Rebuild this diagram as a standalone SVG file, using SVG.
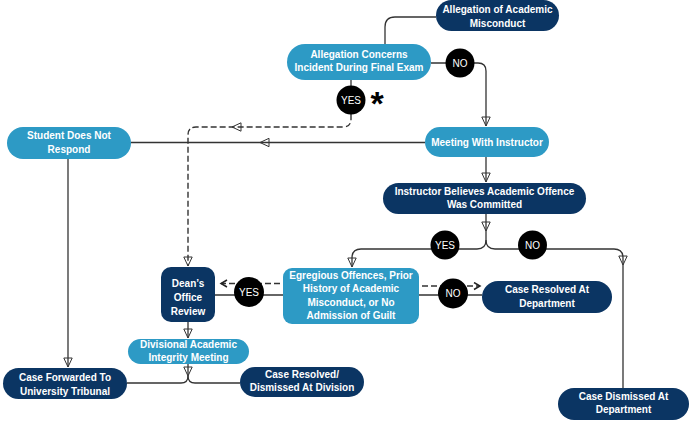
<svg xmlns="http://www.w3.org/2000/svg" xmlns:xlink="http://www.w3.org/1999/xlink" width="690" height="421" viewBox="0 0 690 421">
<style>
.dark{fill:#0b3563}
.light{fill:#2d9ac5}
.t{font-family:"Liberation Sans",Arial,sans-serif;font-size:10px;font-weight:bold;fill:#fff;text-anchor:middle}
.lbl{font-family:"Liberation Sans",Arial,sans-serif;font-size:10px;fill:#fff;text-anchor:middle}
.c{fill:none;stroke:#333;stroke-width:1.3}
.d{fill:none;stroke:#333;stroke-width:1.4;stroke-dasharray:6,3}
.dot{fill:#000}
</style>
<defs>
<marker id="arr" markerWidth="12" markerHeight="12" refX="10" refY="5" orient="auto" markerUnits="userSpaceOnUse">
<path d="M1,0.8 L10,5 L1,9.2 Z" fill="none" stroke="#333" stroke-width="1"/>
</marker>
<marker id="chev" markerWidth="10" markerHeight="10" refX="7" refY="4" orient="auto" markerUnits="userSpaceOnUse">
<path d="M1,0.5 L7,4 L1,7.5" fill="none" stroke="#222" stroke-width="1.5"/>
</marker>
<path id="ahd" d="M0,0 L-9,-4.2 L-9,4.2 Z" fill="none" stroke="#333" stroke-width="1"/>
</defs>
<rect width="690" height="421" fill="#fff"/>
<g id="connectors">
<path class="c" d="M436,17 H395 Q385,17 385,27 V44"/>
<path class="c" d="M431,63 H478 Q486,63 486,71 V126" marker-end="url(#arr)"/>
<path class="c" d="M351,80 V86"/>
<path class="d" d="M351,114 V119 Q351,127 343,127 H196 Q188,127 188,135 V266" marker-end="url(#arr)"/>
<use xlink:href="#ahd" transform="translate(232,127) rotate(180)"/>
<path class="c" d="M425,142.5 H131"/>
<use xlink:href="#ahd" transform="translate(260,142.5) rotate(180)"/>
<path class="c" d="M68,159 V367" marker-end="url(#arr)"/>
<path class="c" d="M486,157 V182" marker-end="url(#arr)"/>
<path class="c" d="M486,214 V231" marker-end="url(#arr)"/>
<path class="c" d="M486,231 V240 Q486,249 477,249 H361 Q352,249 352,258 V267" marker-end="url(#arr)"/>
<path class="c" d="M486,240 Q486,249 495,249 H614 Q623,249 623,258 V388"/>
<use xlink:href="#ahd" transform="translate(623,265) rotate(90)"/>
<path class="c" d="M283,295 H215"/>
<path class="d" d="M280,283.5 H221" marker-end="url(#chev)"/>
<path class="c" d="M419,295 H482"/>
<path class="d" d="M422,286 H480" marker-end="url(#chev)"/>
<path class="c" d="M188,322 V338" marker-end="url(#arr)"/>
<path class="c" d="M188,364 V376" marker-end="url(#arr)"/>
<path class="c" d="M188,376 Q188,383 181,383 H127"/>
<path class="c" d="M188,376 Q188,383 195,383 H240"/>
</g>
<g id="n1"><rect class="dark" x="436" y="0" width="123" height="31" rx="15.5"/><text class="t" x="497.5" y="13">Allegation of Academic</text><text class="t" x="497.5" y="26.5">Misconduct</text></g>
<g id="n2"><rect class="light" x="287" y="44" width="144" height="36" rx="18"/><text class="t" x="359" y="57.5">Allegation Concerns</text><text class="t" x="359" y="71">Incident During Final Exam</text></g>
<g id="n3"><rect class="light" x="7" y="127" width="124" height="32" rx="16"/><text class="t" x="69" y="139">Student Does Not</text><text class="t" x="69" y="153">Respond</text></g>
<g id="n4"><rect class="light" x="425" y="127" width="124" height="30" rx="15"/><text class="t" x="487" y="145.5">Meeting With Instructor</text></g>
<g id="n5"><rect class="dark" x="383" y="183" width="203" height="31" rx="15.5"/><text class="t" x="484.5" y="194.5">Instructor Believes Academic Offence</text><text class="t" x="484.5" y="208">Was Committed</text></g>
<g id="n6"><rect class="dark" x="161" y="267" width="54" height="55" rx="10"/><text class="t" x="188" y="287">Dean’s</text><text class="t" x="188" y="301">Office</text><text class="t" x="188" y="314.5">Review</text></g>
<g id="n7"><rect class="light" x="283" y="268" width="136" height="56" rx="9"/><text class="t" x="351" y="278.5">Egregious Offences, Prior</text><text class="t" x="351" y="292">History of Academic</text><text class="t" x="351" y="305.5">Misconduct, or No</text><text class="t" x="351" y="319">Admission of Guilt</text></g>
<g id="n8"><rect class="dark" x="482" y="281" width="130" height="32" rx="16"/><text class="t" x="547" y="293">Case Resolved At</text><text class="t" x="547" y="307">Department</text></g>
<g id="n9"><rect class="dark" x="558" y="388" width="131" height="32" rx="16"/><text class="t" x="623.5" y="399.5">Case Dismissed At</text><text class="t" x="623.5" y="413">Department</text></g>
<g id="n10"><rect class="light" x="128" y="339" width="121" height="25" rx="12.5"/><text class="t" x="188.5" y="347.5">Divisional Academic</text><text class="t" x="188.5" y="361">Integrity Meeting</text></g>
<g id="n11"><rect class="dark" x="3" y="368" width="124" height="31" rx="15.5"/><text class="t" x="65" y="380.5">Case Forwarded To</text><text class="t" x="65" y="394.5">University Tribunal</text></g>
<g id="n12"><rect class="dark" x="240" y="367" width="124" height="30" rx="15"/><text class="t" x="302" y="377.5">Case Resolved/</text><text class="t" x="302" y="391">Dismissed At Division</text></g>
<g id="l-no1"><circle class="dot" cx="460" cy="63" r="14.5"/><text class="lbl" x="460" y="66.5">NO</text></g>
<g id="l-yes1"><circle class="dot" cx="351" cy="100" r="14.5"/><text class="lbl" x="351" y="103.5">YES</text><text x="377" y="115" font-family="Liberation Sans, Arial, sans-serif" font-size="34" font-weight="bold" text-anchor="middle" fill="#000">*</text></g>
<g id="l-yes2"><circle class="dot" cx="445" cy="245" r="14.5"/><text class="lbl" x="445" y="248.5">YES</text></g>
<g id="l-no2"><circle class="dot" cx="532.5" cy="245" r="14.5"/><text class="lbl" x="532.5" y="248.5">NO</text></g>
<g id="l-yes3"><circle class="dot" cx="249" cy="292" r="15"/><text class="lbl" x="249" y="295.5">YES</text></g>
<g id="l-no3"><circle class="dot" cx="453" cy="293.5" r="15"/><text class="lbl" x="453" y="297">NO</text></g>
</svg>
